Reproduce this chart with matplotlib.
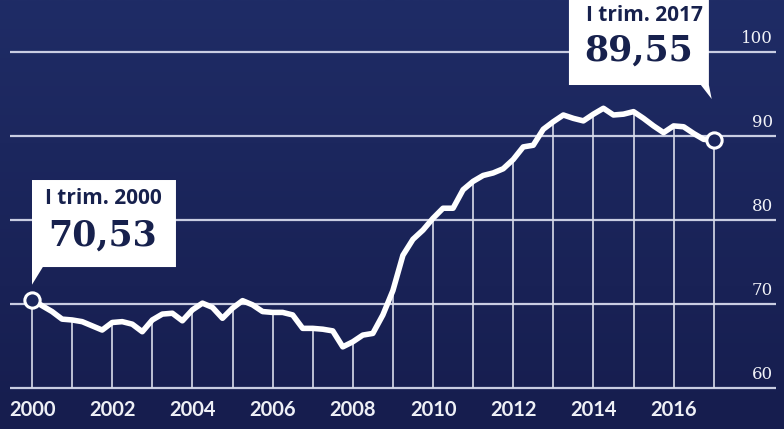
import numpy as np
import matplotlib.pyplot as plt
from matplotlib.patches import Polygon
from matplotlib.colors import LinearSegmentedColormap

# quarterly index values, I trim. 2000 .. I trim. 2017
values = [
    70.53, 69.8, 69.1, 68.2,
    68.1, 67.9, 67.4, 66.9,
    67.8, 67.9, 67.6, 66.7,
    68.1, 68.8, 68.9, 68.0,
    69.3, 70.1, 69.6, 68.3,
    69.5, 70.4, 69.9, 69.1,
    69.0, 69.0, 68.7, 67.1,
    67.1, 67.0, 66.8, 64.9,
    65.5, 66.3, 66.5, 68.7,
    71.6, 75.8, 77.7, 78.8,
    80.2, 81.4, 81.4, 83.6,
    84.6, 85.3, 85.6, 86.1,
    87.2, 88.7, 88.9, 90.8,
    91.7, 92.5, 92.1, 91.8,
    92.6, 93.3, 92.5, 92.6,
    92.9, 92.1, 91.2, 90.4,
    91.2, 91.1, 90.3, 89.6,
    89.55,
]
start_year = 2000
year_labels = [str(y) for y in range(2000, 2017, 2)]
y_ticks = [60, 70, 80, 90, 100]
first_label = ("I trim. 2000", "70,53")
last_label = ("I trim. 2017", "89,55")

BG_TOP = "#1f2c66"
BG_BOT = "#161d4e"
NAVY_TEXT = "#17214d"


def main():
    vals = np.array(values)
    x = start_year + np.arange(len(vals)) / 4.0
    years = x[::4]
    year_vals = vals[::4]

    fig = plt.figure(figsize=(7.84, 4.29), dpi=100)
    ax = fig.add_axes([0, 0, 1, 1])
    x0, x1 = 1999.202, 2018.753
    y0, y1 = 55.12, 106.19
    ax.set_xlim(x0, x1)
    ax.set_ylim(y0, y1)
    ax.axis("off")

    # background, slightly darker towards the bottom
    cmap = LinearSegmentedColormap.from_list("bg", [BG_BOT, BG_TOP])
    grad = np.linspace(0, 1, 256).reshape(-1, 1)
    ax.imshow(grad, extent=[x0, x1, y0, y1], origin="lower", aspect="auto",
              cmap=cmap, zorder=0)

    # grid
    ax.hlines(y_ticks, 1999.45, 2018.55, color="#c9cde2", lw=1.6, zorder=1)
    ax.vlines(years, 60, year_vals, color="#d9dcea", lw=1.2, zorder=1)

    # line
    ax.plot(x, vals, color="white", lw=4.0, solid_joinstyle="round",
            solid_capstyle="butt", zorder=3)
    ax.plot([x[0], x[-1]], [vals[0], vals[-1]], "o", ms=11, mfc="#1c275c",
            mec="white", mew=2.2, zorder=4)

    # axis labels
    for lab in year_labels:
        ax.text(int(lab), 57.4, lab, ha="center", va="center", color="#eef0f6",
                fontsize=14.5, fontweight="bold", family="Lato", zorder=5)
    for t in y_ticks:
        ax.text(2018.48, t + 1.65, str(t), ha="right", va="center",
                color="#f2f3f8", fontsize=12, family="DejaVu Serif", zorder=5)

    # callout boxes
    bx0, bx1, by0, by1 = 2000.0, 2003.59, 74.4, 84.76
    ax.add_patch(Polygon([[bx0, by1], [bx1, by1], [bx1, by0], [bx0 + 0.27, by0],
                          [x[0], 72.3], [bx0, by0]],
                         closed=True, fc="white", ec="none", zorder=5))
    ax.text(2000.32, 82.6, first_label[0], ha="left", va="center",
            color=NAVY_TEXT, fontsize=15, fontweight="bold", family="Open Sans", zorder=6)
    ax.text(2000.4, 78.1, first_label[1], ha="left", va="center",
            color=NAVY_TEXT, fontsize=25, fontweight="bold", family="DejaVu Serif", zorder=6)

    cx0, cx1, cy0, cy1 = 2013.39, 2016.88, 96.07, 107.0
    ax.add_patch(Polygon([[cx0, cy1], [cx1, cy1], [cx1, cy0], [x[-1] - 0.05, 94.4],
                          [cx1 - 0.2, cy0], [cx0, cy0]],
                         closed=True, fc="white", ec="none", zorder=5))
    ax.text(2013.82, 104.4, last_label[0], ha="left", va="center",
            color=NAVY_TEXT, fontsize=15, fontweight="bold", family="Open Sans", zorder=6)
    ax.text(2013.78, 100.2, last_label[1], ha="left", va="center",
            color=NAVY_TEXT, fontsize=25, fontweight="bold", family="DejaVu Serif", zorder=6)

    fig.savefig("out.png", dpi=100)


if __name__ == "__main__":
    main()
